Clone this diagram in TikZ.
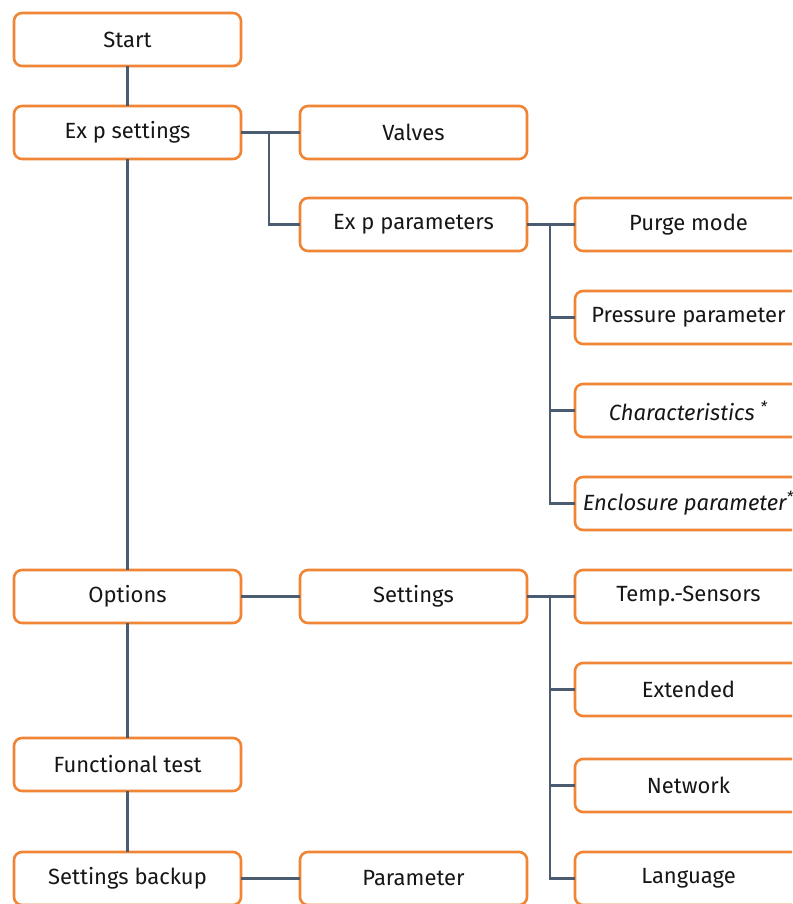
\documentclass[tikz,border=0pt]{standalone}
\usepackage{fontspec}
\setmainfont{Fira Sans}
\usepackage{tikz}
\usetikzlibrary{positioning,calc}
\definecolor{boxorange}{HTML}{EF8535}
\definecolor{linegray}{HTML}{4B5B70}
\definecolor{textdark}{HTML}{161616}

\begin{document}
\begin{tikzpicture}[
  node distance=20pt,
  box/.style={draw=boxorange, line width=1.3pt, rounded corners=4pt, fill=white,
    minimum height=26.5pt, minimum width=113.5pt, inner sep=2pt, outer sep=0pt,
    align=center, text=textdark, font=\fontsize{11pt}{13pt}\selectfont},
  conn/.style={draw=linegray, line width=1.2pt}
]
\useasboundingbox (0,0) rectangle (396pt,-452pt);
\clip (0,0) rectangle (396pt,-452pt);

% main column
\node[box] (start) at (63.75pt,-19.75pt) {Start};
\node[box, below=of start] (exps) {Ex p settings};
\node[box, right=29.5pt of exps] (valves) {Valves};
\node[box, below=19.5pt of valves] (expp) {Ex p parameters};

% parameter branch
\node[box, right=24pt of expp] (purge) {Purge mode};
\node[box, below=of purge] (press) {Pressure parameter};
\node[box, below=of press] (charac) {\itshape Characteristics \textsuperscript{*}};
\node[box, below=of charac] (encl) {\itshape Enclosure parameter\textsuperscript{*}};

% options branch
\node[box, below=of encl] (temp) {Temp.-Sensors};
\node[box, left=24pt of temp] (sett) {Settings};
\node[box, left=29.5pt of sett] (opt) {Options};
\node[box, below=of temp] (ext) {Extended};
\node[box, below=21.5pt of ext] (net) {Network};
\node[box, below=of net] (lang) {Language};

\node[box, below=57.5pt of opt] (functest) {Functional test};
\node[box, below=30.5pt of functest] (backup) {Settings backup};
\node[box, right=29.5pt of backup] (param) {Parameter};

% bus points
\coordinate (busA) at ($(exps.east)!0.47!(valves.west)$);
\coordinate (busB) at ($(expp.east)!0.48!(purge.west)$);
\coordinate (busC) at ($(sett.east)!0.48!(temp.west)$);

\draw[conn] (start) -- (exps);
\draw[conn] (exps) -- (opt);
\draw[conn] (opt) -- (functest);
\draw[conn] (functest) -- (backup);

\draw[conn] (exps.east) -- (valves.west);
\draw[conn] (busA) |- (expp.west);

\draw[conn] (expp.east) -- (purge.west);
\draw[conn] (busB) |- (encl.west);
\foreach \n in {press,charac}
  \draw[conn] (busB |- \n.west) -- (\n.west);

\draw[conn] (opt.east) -- (sett.west);
\draw[conn] (sett.east) -- (temp.west);
\draw[conn] (busC) |- (lang.west);
\foreach \n in {ext,net}
  \draw[conn] (busC |- \n.west) -- (\n.west);

\draw[conn] (backup.east) -- (param.west);
\end{tikzpicture}
\end{document}
